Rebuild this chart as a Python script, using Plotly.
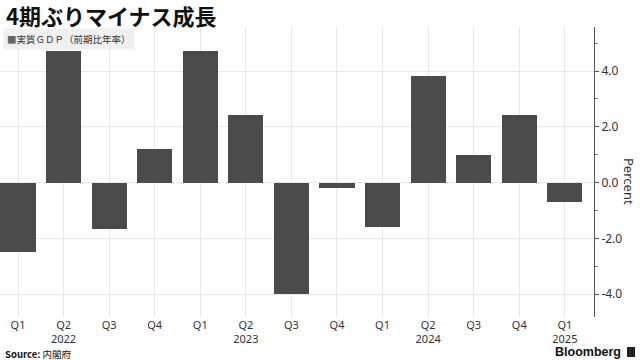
import plotly.graph_objects as go

quarters = ["Q1", "Q2", "Q3", "Q4", "Q1", "Q2", "Q3", "Q4", "Q1", "Q2", "Q3", "Q4", "Q1"]
years = ["", "2022", "", "", "", "2023", "", "", "", "2024", "", "", "2025"]
growth = [-2.48, 4.72, -1.68, 1.22, 4.72, 2.43, -3.98, -0.18, -1.58, 3.83, 1.0, 2.41, -0.69]
y_ticks = [-4, -2, 0, 2, 4]

W, H = 640, 360
ml, mr, mt, mb = 0, 46, 27, 43
pw = W - ml - mr
ph = H - mt - mb

idx = list(range(len(growth)))
ticktext = [q + ("<br>" + y if y else "") for q, y in zip(quarters, years)]

fig = go.Figure()
fig.add_trace(go.Bar(
    x=idx, y=growth, width=0.77,
    marker=dict(color="#4b4b4b", line=dict(width=0)),
    showlegend=False,
))

font_main = "Noto Sans CJK JP, Noto Sans, sans-serif"
font_tick = "Noto Sans, sans-serif"

fig.update_layout(
    width=W, height=H,
    margin=dict(l=ml, r=mr, t=mt, b=mb),
    paper_bgcolor="white", plot_bgcolor="white",
    font=dict(family=font_main, color="#333333", size=12),
    bargap=0,
    xaxis=dict(
        range=[-0.395, 12.64],
        tickmode="array", tickvals=idx, ticktext=ticktext,
        showgrid=True, gridcolor="#e8e8e8", gridwidth=1,
        ticks="", showline=False, zeroline=False,
        tickfont=dict(size=11, color="#333333", family=font_tick),
    ),
    yaxis=dict(
        side="right", range=[-4.82, 5.58],
        tickmode="array", tickvals=y_ticks,
        ticktext=[f"{v:.1f}" for v in y_ticks],
        showgrid=True, gridcolor="#e8e8e8", gridwidth=1,
        zeroline=False,
        showline=True, linecolor="#555555", linewidth=1,
        ticks="outside", ticklen=4, tickcolor="#555555",
        minor=dict(tickmode="array", tickvals=[-3, -1, 1, 3, 5], ticks="outside", ticklen=3, tickcolor="#777777", showgrid=False),
        tickfont=dict(size=12, color="#333333", family=font_tick),
    ),
)

fig.add_annotation(
    text="Percent", xref="paper", yref="paper",
    x=629 / pw, y=(H - mb - 182) / ph, xanchor="center", yanchor="middle",
    textangle=90, showarrow=False,
    font=dict(size=13, color="#333333", family=font_tick),
)
fig.add_annotation(
    text="<b>4期ぶりマイナス成長</b>", xref="paper", yref="paper",
    x=(4 - ml) / pw, y=(H - mb - 15) / ph, xanchor="left", yanchor="middle",
    showarrow=False, font=dict(size=22, color="#111111", family=font_main),
)
fig.add_annotation(
    text="<span style='color:#666666'>■</span>実質ＧＤＰ（前期比年率）", xref="paper", yref="paper",
    x=3 / pw, y=(H - mb - 39) / ph, xanchor="left", yanchor="middle",
    showarrow=False, bgcolor="#f0f0f0", borderpad=3,
    font=dict(size=9.5, color="#333333", family=font_main),
)
fig.add_annotation(
    text="<b>Source:</b> 内閣府", xref="paper", yref="paper",
    x=3 / pw, y=(H - mb - 353.5) / ph, xanchor="left", yanchor="middle",
    showarrow=False, font=dict(size=9.5, color="#111111", family=font_main),
)
fig.add_annotation(
    text="<b>Bloomberg</b>", xref="paper", yref="paper",
    x=623 / pw, y=(H - mb - 352) / ph, xanchor="right", yanchor="middle",
    showarrow=False, font=dict(size=12.5, color="#111111", family="Liberation Sans, Arial, sans-serif"),
)
fig.add_shape(
    type="rect", xref="paper", yref="paper",
    x0=627 / pw, x1=635 / pw, y0=(H - mb - 357) / ph, y1=(H - mb - 347) / ph,
    fillcolor="#222222", line=dict(width=0),
)

fig.write_html("out.html")
